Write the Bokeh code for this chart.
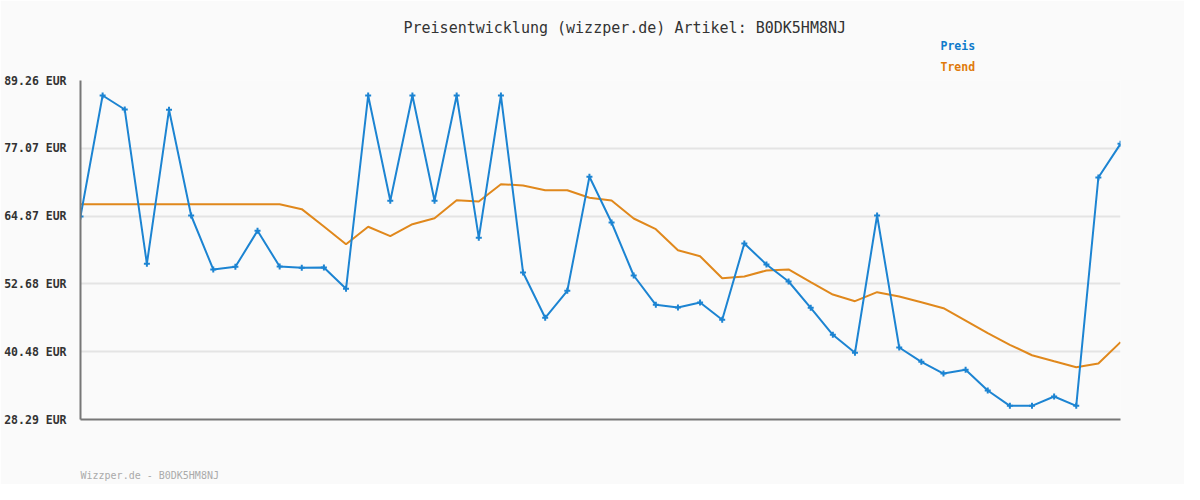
from bokeh.plotting import figure
from bokeh.models import Range1d, FixedTicker, Title
from bokeh.embed import file_html
from bokeh.resources import INLINE

title_text = "Preisentwicklung (wizzper.de) Artikel: B0DK5HM8NJ"
footer_text = "Wizzper.de - B0DK5HM8NJ"
series_names = ["Preis", "Trend"]

price = [64.8, 86.56, 84.04, 56.29, 83.99, 64.98, 55.27, 55.75, 62.23, 55.81,
         55.57, 55.63, 51.80, 86.56, 67.62, 86.56, 67.62, 86.56, 60.97, 86.56,
         54.73, 46.58, 51.44, 71.94, 63.72, 54.19, 48.92, 48.43, 49.33, 46.22,
         59.94, 56.17, 53.11, 48.38, 43.52, 40.29, 64.98, 41.24, 38.66, 36.56,
         37.23, 33.51, 30.75, 30.75, 32.42, 30.75, 71.81, 77.87]
trend = [67.01, 67.01, 67.01, 67.01, 67.01, 67.01, 67.01, 67.01, 67.01, 67.01,
         66.12, 63.0, 59.82, 62.95, 61.26, 63.42, 64.50, 67.73, 67.50, 70.61,
         70.37, 69.53, 69.53, 68.16, 67.68, 64.44, 62.52, 58.74, 57.66, 53.70,
         54.01, 55.09, 55.27, 52.99, 50.77, 49.57, 51.19, 50.41, 49.39, 48.31,
         46.09, 43.81, 41.72, 39.85, 38.77, 37.70, 38.36, 42.19]
x_idx = list(range(len(price)))
y_ticks = [28.29, 40.48, 52.68, 64.87, 77.07, 89.26]
y_tick_labels = ["28.29 EUR", "40.48 EUR", "52.68 EUR", "64.87 EUR", "77.07 EUR", "89.26 EUR"]

BLUE = "#1c84d2"
ORANGE = "#e0881c"
BG = "#fafafa"
FONT = "DejaVu Sans Mono"

W, H = 1184, 484
BL, BR, BT, BB = 80, 64, 80, 65
FOOT_PX = 10

p = figure(width=W, height=H, output_backend="svg", toolbar_location=None,
           x_range=Range1d(0, len(price) - 1), y_range=Range1d(y_ticks[0], y_ticks[-1]),
           min_border_left=BL, min_border_right=BR, min_border_top=BT, min_border_bottom=BB)
p.background_fill_color = BG
p.border_fill_color = BG
p.outline_line_color = None

p.xgrid.grid_line_color = None
p.ygrid.ticker = FixedTicker(ticks=y_ticks)
p.ygrid.grid_line_color = "#e4e4e4"
p.ygrid.grid_line_width = 2

ya = p.yaxis[0]
ya.ticker = FixedTicker(ticks=y_ticks)
ya.major_label_overrides = {t: l for t, l in zip(y_ticks, y_tick_labels)}
ya.axis_line_color = "#777777"
ya.axis_line_width = 2
ya.major_tick_line_color = None
ya.minor_tick_line_color = None
ya.major_label_standoff = 8
ya.major_label_text_font = FONT
ya.major_label_text_font_style = "bold"
ya.major_label_text_font_size = "11.5px"
ya.major_label_text_color = "#333333"

# footer: a single x-axis label, its centre placed so the text starts at the frame's left edge
frame_w = W - BL - BR
half_text_px = len(footer_text) * 0.602 * FOOT_PX / 2
footer_tick = half_text_px * (len(price) - 1) / frame_w

xa = p.xaxis[0]
xa.ticker = FixedTicker(ticks=[footer_tick])
xa.major_label_overrides = {footer_tick: footer_text}
xa.axis_line_color = "#777777"
xa.axis_line_width = 2
xa.major_tick_line_color = None
xa.minor_tick_line_color = None
xa.major_label_standoff = 44
xa.major_label_text_font = FONT
xa.major_label_text_font_size = f"{FOOT_PX}px"
xa.major_label_text_font_style = "normal"
xa.major_label_text_color = "#aaaaaa"

p.line(x_idx, trend, line_color=ORANGE, line_width=2)
p.line(x_idx, price, line_color=BLUE, line_width=2)
p.scatter(x_idx, price, marker="cross", size=6, line_color=BLUE, line_width=2)

# stacked rows above the frame: first added sits closest to the frame
p.add_layout(Title(text=series_names[1], align="left", offset=860, vertical_align="middle",
                   standoff=12, text_font=FONT, text_font_size="11.5px",
                   text_font_style="bold", text_color="#e07a0c"), "above")
p.add_layout(Title(text=series_names[0], align="left", offset=860, vertical_align="bottom",
                   standoff=0, text_font=FONT, text_font_size="11.5px",
                   text_font_style="bold", text_color="#0f7acb"), "above")
p.add_layout(Title(text=title_text, align="left", offset=323, vertical_align="bottom",
                   standoff=0, text_font=FONT, text_font_size="15px",
                   text_font_style="normal", text_color="#333333"), "above")

open("out.html", "w").write(file_html(p, INLINE))
